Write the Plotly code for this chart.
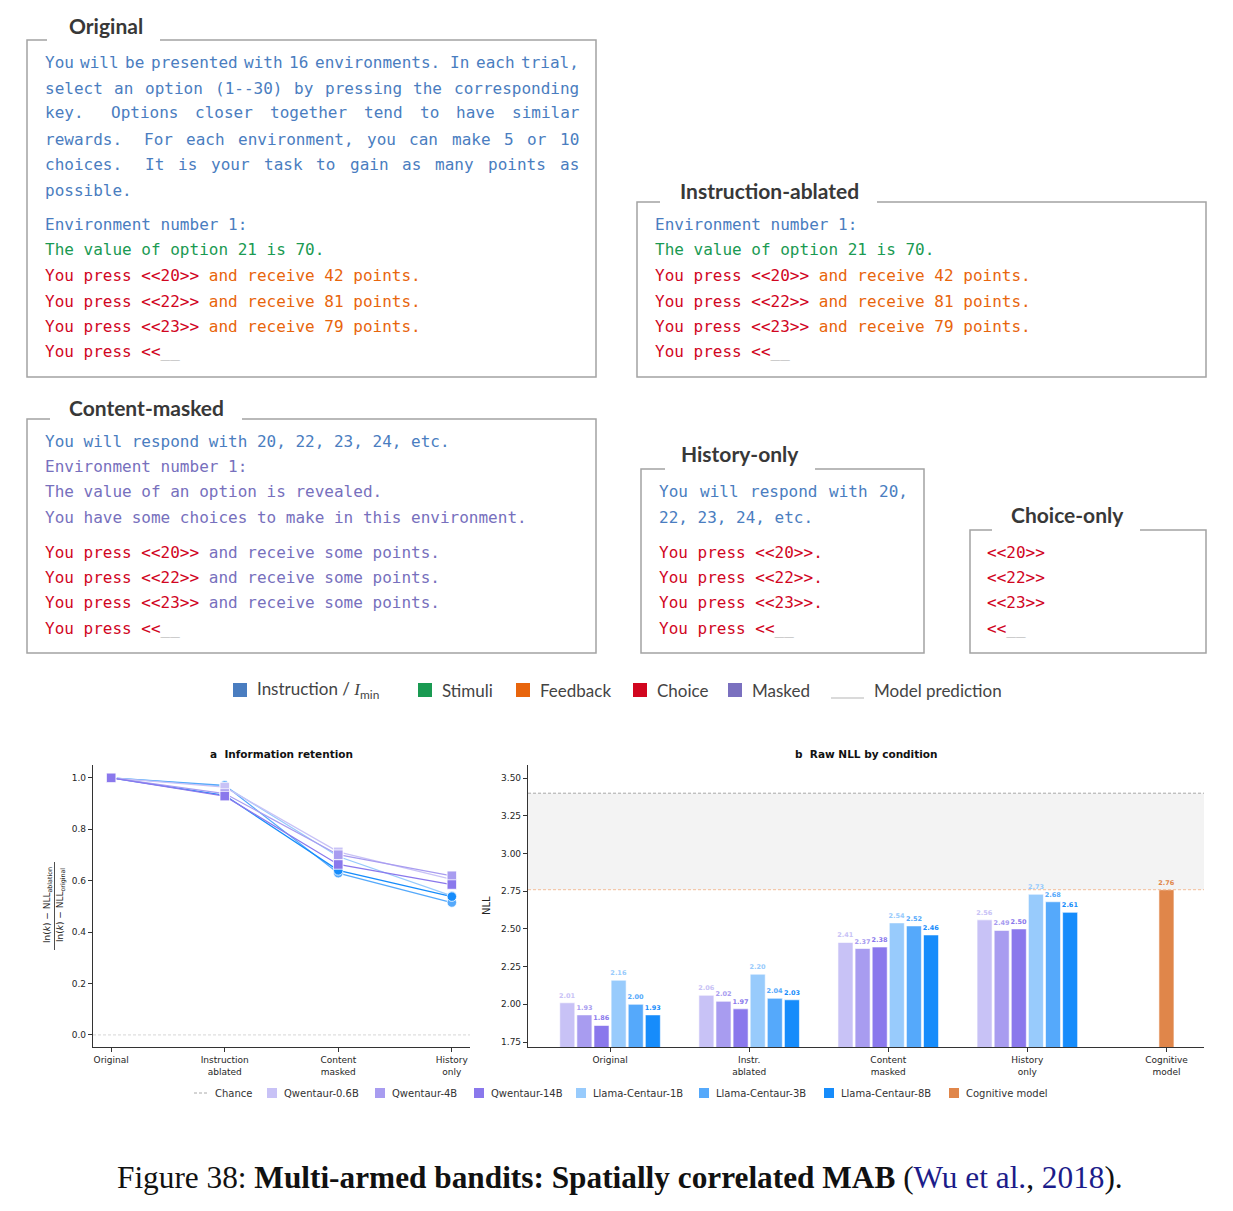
import plotly.graph_objects as go

W, H = 1233, 1211

# ---- data -------------------------------------------------------------
conds_a = ["Original", "Instruction<br>ablated", "Content<br>masked", "History<br>only"]
conds_b = ["Original", "Instr.<br>ablated", "Content<br>masked", "History<br>only", "Cognitive<br>model"]

models = ["Qwentaur-0.6B", "Qwentaur-4B", "Qwentaur-14B",
          "Llama-Centaur-1B", "Llama-Centaur-3B", "Llama-Centaur-8B"]
model_colors = ["#c8c2f6", "#a89cf0", "#8a78ec", "#98cbfc", "#55a9fb", "#168cfb"]
cognitive_color = "#e0864a"

# raw NLL per condition (Original, Instr. ablated, Content masked, History only)
nll_qwen_06 = [2.01, 2.06, 2.41, 2.56]
nll_qwen_4 = [1.93, 2.02, 2.37, 2.49]
nll_qwen_14 = [1.86, 1.97, 2.38, 2.50]
nll_llama_1 = [2.16, 2.20, 2.54, 2.73]
nll_llama_3 = [2.00, 2.04, 2.52, 2.68]
nll_llama_8 = [1.93, 2.03, 2.46, 2.61]
nll_cognitive = [2.76]
nll_chance = 3.40

# information retention per condition
ret_qwen_06 = [1.0, 0.964, 0.712, 0.605]
ret_qwen_4 = [1.0, 0.939, 0.701, 0.619]
ret_qwen_14 = [1.0, 0.929, 0.663, 0.585]
ret_llama_1 = [1.0, 0.968, 0.694, 0.541]
ret_llama_3 = [1.0, 0.971, 0.629, 0.515]
ret_llama_8 = [1.0, 0.932, 0.640, 0.538]

nll_all = [nll_qwen_06, nll_qwen_4, nll_qwen_14, nll_llama_1, nll_llama_3, nll_llama_8]
ret_all = [ret_qwen_06, ret_qwen_4, ret_qwen_14, ret_llama_1, ret_llama_3, ret_llama_8]

BLUE, GREEN, ORANGE, RED, PURPLE, GREY = "#4a7dc0", "#1a9a52", "#e8650c", "#d1061f", "#7770bd", "#aaaaaa"

original_par = [
    "You will be presented with 16 environments. In each trial,",
    "select an option (1--30) by pressing the corresponding",
    "key. Options closer together tend to have similar",
    "rewards. For each environment, you can make 5 or 10",
    "choices. It is your task to gain as many points as",
]
original_last = "possible."
presses = ["20", "22", "23"]
points = ["42", "81", "79"]


def fx(x):
    return x / W


def fy(y):
    return 1 - y / H


def esc(s):
    return s.replace("<", "&lt;").replace(">", "&gt;")


MONO = "DejaVu Sans Mono"
FS = 16
CW = FS * 1233 / 2048
annots = []
shapes = []


def text(x, y, s, size=FS, family=MONO, color="#333", xanchor="left", angle=0):
    annots.append(dict(x=fx(x), y=fy(y), xref="paper", yref="paper", text=s, showarrow=False,
                       xanchor=xanchor, yanchor="middle", textangle=angle, borderpad=0,
                       font=dict(family=family, size=size, color=color)))


def line_segs(x, y, segs):
    s = "".join(f"<span style='color:{c}'>{esc(t)}</span>" for t, c in segs)
    text(x - 1, y, s)


def justified(x0, x1, y, s, color):
    words = s.split()
    weights = [1.6 if w[-1] in ".:" else 1.0 for w in words[:-1]]
    free = (x1 - x0) - sum(len(w) for w in words) * CW
    unit = free / sum(weights)
    xx = x0
    for i, w in enumerate(words):
        text(xx - 1, y, f"<span style='color:{color}'>{esc(w)}</span>")
        xx += len(w) * CW + (unit * weights[i] if i < len(weights) else 0)


def box(x0, y0, x1, y1, g0, g1, title, tx, ty):
    path = (f"M{fx(g0)},{fy(y0)} L{fx(x0)},{fy(y0)} L{fx(x0)},{fy(y1)} "
            f"L{fx(x1)},{fy(y1)} L{fx(x1)},{fy(y0)} L{fx(g1)},{fy(y0)}")
    shapes.append(dict(type="path", path=path, xref="paper", yref="paper",
                       line=dict(color="#a3a3a3", width=1.5)))
    text(tx, ty, f"<b>{title}</b>", size=21, family="Lato", color="#383838", xanchor="center")


def env_block(x, ys, masked=False):
    for i, yy in enumerate(ys[:3]):
        tail = (" and receive some points.", PURPLE) if masked else \
            (f" and receive {points[i]} points.", ORANGE)
        line_segs(x, yy, [(f"You press <<{presses[i]}>>", RED), tail])
    line_segs(x, ys[3], [("You press <<", RED), ("__", GREY)])


# ---- text panels ---------------------------------------------------------
box(27, 40, 596, 377, 47, 160, "Original", 106, 25)
par_y = [62, 88, 113, 139, 164]
for s, yy in zip(original_par, par_y):
    justified(45, 579, yy, s, BLUE)
line_segs(45, 190, [(original_last, BLUE)])
line_segs(45, 224, [("Environment number 1:", BLUE)])
line_segs(45, 250, [("The value of option 21 is 70.", GREEN)])
env_block(45, [275, 301, 326, 351])

box(637, 202, 1206, 377, 660, 877, "Instruction-ablated", 769, 190)
line_segs(655, 224, [("Environment number 1:", BLUE)])
line_segs(655, 250, [("The value of option 21 is 70.", GREEN)])
env_block(655, [275, 301, 326, 351])

box(27, 419, 596, 653, 50, 242, "Content-masked", 146, 407)
line_segs(45, 441, [("You will respond with 20, 22, 23, 24, etc.", BLUE)])
line_segs(45, 466, [("Environment number 1:", PURPLE)])
line_segs(45, 492, [("The value of an option is revealed.", PURPLE)])
line_segs(45, 517, [("You have some choices to make in this environment.", PURPLE)])
env_block(45, [552, 577, 602, 628], masked=True)

box(641, 469, 924, 653, 665, 815, "History-only", 740, 454)
justified(659, 908, 492, "You will respond with 20,", BLUE)
line_segs(659, 517, [("22, 23, 24, etc.", BLUE)])
for i, yy in enumerate([552, 577, 602]):
    line_segs(659, yy, [(f"You press <<{presses[i]}>>.", RED)])
line_segs(659, 628, [("You press <<", RED), ("__", GREY)])

box(970, 530, 1206, 653, 992, 1140, "Choice-only", 1067, 514)
for i, yy in enumerate([552, 577, 602]):
    line_segs(987, yy, [(f"<<{presses[i]}>>", RED)])
line_segs(987, 628, [("<<", RED), ("__", GREY)])

# ---- colour key row ------------------------------------------------------
key_items = [(233, BLUE, "Instruction / <span style='font-family:Liberation Serif'><i>I</i></span><sub>min</sub>"),
             (418, GREEN, "Stimuli"), (516, ORANGE, "Feedback"),
             (633, RED, "Choice"), (728, "#7a70bf", "Masked")]
for kx, kc, kt in key_items:
    shapes.append(dict(type="rect", xref="paper", yref="paper", x0=fx(kx), x1=fx(kx + 14),
                       y0=fy(697), y1=fy(683), fillcolor=kc, line=dict(width=0)))
    text(kx + 23, 690, kt, size=17, family="Lato", color="#444")
shapes.append(dict(type="line", xref="paper", yref="paper", x0=fx(831), x1=fx(864),
                   y0=fy(698), y1=fy(698), line=dict(color="#b5b5b5", width=1.2)))
text(873, 690, "Model prediction", size=17, family="Lato", color="#444")

# ---- charts --------------------------------------------------------------
fig = go.Figure()

markers = ["square"] * 3 + ["circle"] * 3
for i in [3, 4, 5, 0, 1, 2]:
    fig.add_trace(go.Scatter(
        x=list(range(len(conds_a))), y=ret_all[i], mode="lines+markers", name=models[i],
        line=dict(color=model_colors[i], width=1.3),
        marker=dict(symbol=markers[i], size=9.5, color=model_colors[i], line=dict(color="white", width=0.8)),
        showlegend=False, xaxis="x", yaxis="y"))

SLOT = 0.123
BW = 0.108
for i in range(6):
    fig.add_trace(go.Bar(
        x=list(range(4)), y=nll_all[i], name=models[i], width=BW, offset=(i - 2.5) * SLOT - BW / 2,
        marker=dict(color=model_colors[i], line=dict(color="white", width=0.6)),
        texttemplate="<b>%{y:.2f}</b>", textposition="outside", constraintext="none",
        textfont=dict(family="DejaVu Sans", size=6.5, color=model_colors[i]),
        cliponaxis=False, showlegend=False, xaxis="x2", yaxis="y2"))
fig.add_trace(go.Bar(
    x=[4], y=nll_cognitive, name="Cognitive model", width=BW, offset=-BW / 2,
    marker=dict(color=cognitive_color, line=dict(color="white", width=0.6)),
    texttemplate="<b>%{y:.2f}</b>", textposition="outside", constraintext="none",
    textfont=dict(family="DejaVu Sans", size=6.5, color=cognitive_color),
    cliponaxis=False, showlegend=False, xaxis="x2", yaxis="y2"))

# chance band / reference lines
shapes.append(dict(type="rect", xref="x2 domain", yref="y2", x0=0, x1=1, y0=nll_cognitive[0], y1=nll_chance,
                   fillcolor="#f3f3f3", line=dict(width=0), layer="below"))
shapes.append(dict(type="line", xref="x2 domain", yref="y2", x0=0, x1=1, y0=nll_chance, y1=nll_chance,
                   line=dict(color="#a8a8a8", width=1, dash="3px,2px")))
shapes.append(dict(type="line", xref="x2 domain", yref="y2", x0=0, x1=1, y0=nll_cognitive[0],
                   y1=nll_cognitive[0], line=dict(color="#f3bd98", width=1, dash="3px,2px")))
shapes.append(dict(type="line", xref="x domain", yref="y", x0=0, x1=1, y0=0, y1=0,
                   line=dict(color="#cccccc", width=0.8, dash="3px,2px")))

# legend drawn by hand to match the compact matplotlib spacing
leg_names = ["Chance"] + models + ["Cognitive model"]
leg_colors = [None] + model_colors + [cognitive_color]
leg_text_x = [214, 283, 391, 490, 592, 715, 840, 965]
LEG_Y = 1093
for name, col, lx in zip(leg_names, leg_colors, leg_text_x):
    if col is None:
        shapes.append(dict(type="line", xref="paper", yref="paper", x0=fx(lx - 20), x1=fx(lx - 5),
                           y0=fy(LEG_Y), y1=fy(LEG_Y), line=dict(color="#aaaaaa", width=1, dash="3px,2px")))
    else:
        shapes.append(dict(type="rect", xref="paper", yref="paper", x0=fx(lx - 16), x1=fx(lx - 6),
                           y0=fy(LEG_Y + 5), y1=fy(LEG_Y - 5), fillcolor=col, line=dict(width=0)))
    text(lx, LEG_Y, name, size=10, family="DejaVu Sans", color="#333")

tickfont = dict(family="DejaVu Sans", size=9, color="#262626")
axis_common = dict(showline=True, linecolor="#333", linewidth=1.2, ticks="outside", ticklen=4,
                   tickwidth=1, tickcolor="#333", showgrid=False, zeroline=False, tickfont=tickfont)

text(281, 754, "<b>a  Information retention</b>", size=10.5, family="DejaVu Sans", color="#111", xanchor="center")
text(866, 754, "<b>b  Raw NLL by condition</b>", size=10.5, family="DejaVu Sans", color="#111", xanchor="center")
text(486, 906, "NLL", size=10, family="DejaVu Sans", color="#222", xanchor="center", angle=-90)
text(48, 905, "ln(<i>k</i>) − NLL<sub>ablation</sub>", size=9, family="DejaVu Sans", color="#222",
     xanchor="center", angle=-90)
text(61, 905, "ln(<i>k</i>) − NLL<sub>original</sub>", size=9, family="DejaVu Sans", color="#222",
     xanchor="center", angle=-90)
shapes.append(dict(type="line", xref="paper", yref="paper", x0=fx(54.5), x1=fx(54.5), y0=fy(862), y1=fy(950),
                   line=dict(color="#222", width=0.8)))

text(620, 1177,
     "Figure 38: <b>Multi-armed bandits: Spatially correlated MAB</b> ("
     "<span style='color:#1c1c8a'>Wu et al.</span>, <span style='color:#1c1c8a'>2018</span>).",
     size=31.3, family="Liberation Serif", color="#111", xanchor="center")

fig.update_layout(
    width=W, height=H, margin=dict(l=0, r=0, t=0, b=0),
    paper_bgcolor="white", plot_bgcolor="white",
    barmode="overlay", showlegend=False,
    xaxis=dict(domain=[fx(93), fx(470)], range=[-0.16, 3.16], tickvals=list(range(4)), ticktext=conds_a,
               anchor="y", **axis_common),
    yaxis=dict(domain=[fy(1047), fy(765)], range=[-0.047, 1.05], tickvals=[0, 0.2, 0.4, 0.6, 0.8, 1.0],
               tickformat=".1f", anchor="x", **axis_common),
    xaxis2=dict(domain=[fx(528), fx(1204)], range=[-0.59, 4.27], tickvals=list(range(5)), ticktext=conds_b,
                anchor="y2", **axis_common),
    yaxis2=dict(domain=[fy(1047), fy(765)], range=[1.717, 3.587],
                tickvals=[1.75, 2.0, 2.25, 2.5, 2.75, 3.0, 3.25, 3.5], tickformat=".2f", anchor="x2", **axis_common),
    annotations=annots, shapes=shapes,
)

fig.write_html("out.html", config={"displayModeBar": False},
               post_script="document.body.style.margin='0';")
